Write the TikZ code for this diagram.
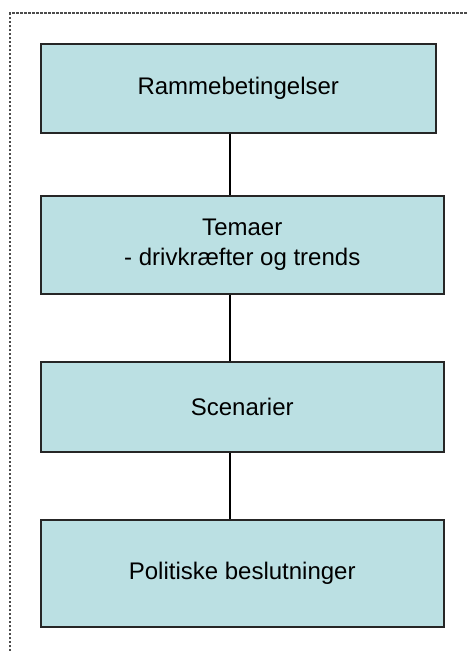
\documentclass[tikz,border=0pt]{standalone}
\usepackage{fontspec}
\setmainfont{Liberation Sans}
\definecolor{boxfill}{HTML}{BBE0E3}
\tikzset{
  stepbox/.style={draw=black!85, line width=1.5pt, fill=boxfill, inner sep=0pt,
    anchor=north west, minimum width=403pt, align=center,
    font=\fontsize{24}{30}\selectfont},
  frameline/.style={draw=black!70, line width=1.2pt, dash pattern=on 2.5pt off 1.5pt},
}
\begin{document}
\begin{tikzpicture}[x=1pt, y=-1pt]
\useasboundingbox (0,0) rectangle (467,651);

\draw [frameline] (10,651) -- (10,13) -- (467,13);

\node [stepbox, minimum width=395pt, minimum height=89pt] (rammer) at (40,43) {Rammebetingelser};
\node [stepbox, minimum height=98pt] (temaer) at (40,195) {Temaer\\ - drivkræfter og trends};
\node [stepbox, minimum height=90pt] (scenarier) at (40,361) {Scenarier};
\node [stepbox, minimum height=107pt] (beslutninger) at (40,519) {Politiske beslutninger};

\coordinate (spine) at (230,0);
\foreach \a/\b in {rammer/temaer, temaer/scenarier, scenarier/beslutninger}
  \draw [line width=1.5pt] (\a.south -| spine) -- (\b.north -| spine);

\end{tikzpicture}
\end{document}
